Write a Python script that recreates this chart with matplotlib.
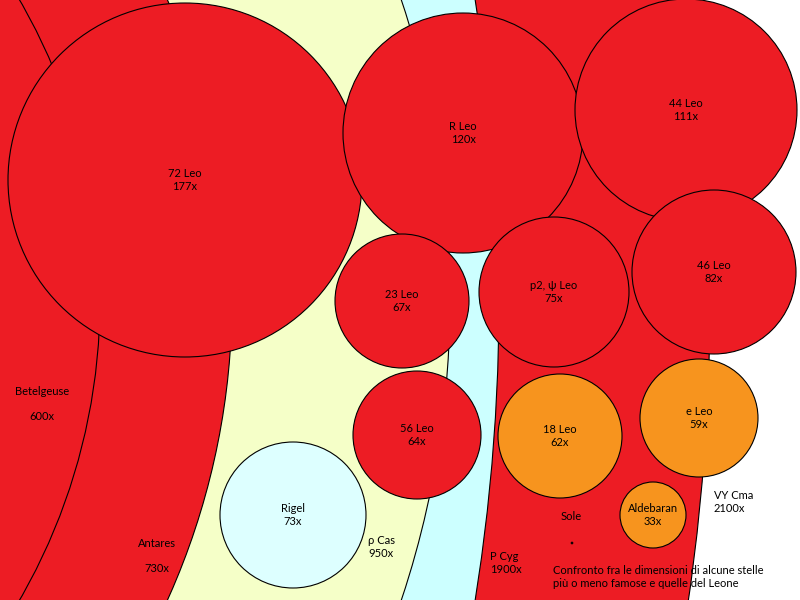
import matplotlib.pyplot as plt
from matplotlib.patches import Circle

plt.rcParams['font.family'] = ['Lato', 'DejaVu Sans']

# giant stars: name, radius (x Sun), centre, fill
big_names = ['VY Cma', 'P Cyg', 'ρ Cas', 'Antares', 'Betelgeuse']
big_radius = [2100, 1900, 950, 730, 600]
big_cx = [-1390, -1401, -500, -498, -500]
big_cy = [300, 300, 300, 300, 300]
big_color = ['#ed1c24', '#ccffff', '#f5ffc8', '#ed1c24', '#ed1c24']
big_label_x = [714, 490, 368, 157, 42]
big_label_y = [502, 563, 547, 556, 404]

# smaller stars
small_names = ['72 Leo', 'R Leo', '44 Leo', '23 Leo', 'p2, ψ Leo', '46 Leo',
               '56 Leo', '18 Leo', 'e Leo', 'Aldebaran', 'Rigel']
small_radius = [177, 120, 111, 67, 75, 82, 64, 62, 59, 33, 73]
small_cx = [185, 463, 686, 402, 554, 714, 417, 560, 699, 653, 293]
small_cy = [180, 133, 110, 301, 292, 272, 435, 436, 418, 515, 515]
small_color = ['#ed1c24'] * 7 + ['#f7941e', '#f7941e', '#f7941e', '#ddffff']

fig = plt.figure(figsize=(8, 6), dpi=100)
ax = fig.add_axes([0, 0, 1, 1])
ax.set_xlim(0, 800)
ax.set_ylim(600, 0)
ax.set_aspect('equal')
ax.axis('off')

for n, r, x, y, c, lx, ly in zip(big_names, big_radius, big_cx, big_cy, big_color,
                                  big_label_x, big_label_y):
    ax.add_patch(Circle((x, y), r, facecolor=c, edgecolor='black', lw=0.8))
    if n in ('Betelgeuse', 'Antares'):
        ax.text(lx, ly, f'{n}\n\n{r}x', ha='center', va='center', fontsize=8,
                multialignment='center')
    else:
        ax.text(lx, ly, f'{n}\n{r}x', ha='left', va='center', fontsize=8)

for n, r, x, y, c in zip(small_names, small_radius, small_cx, small_cy, small_color):
    ax.add_patch(Circle((x, y), r, facecolor=c, edgecolor='black', lw=0.8))
    ax.text(x, y, f'{n}\n{r}x', ha='center', va='center', fontsize=8)

# the Sun
ax.add_patch(Circle((572, 543), 1, facecolor='black', edgecolor='black', lw=0.5))
ax.text(571, 517, 'Sole', ha='center', va='center', fontsize=8)

ax.text(553, 577, 'Confronto fra le dimensioni di alcune stelle\npiù o meno famose e quelle del Leone',
        ha='left', va='center', fontsize=8)

fig.savefig('out.png', dpi=100)
